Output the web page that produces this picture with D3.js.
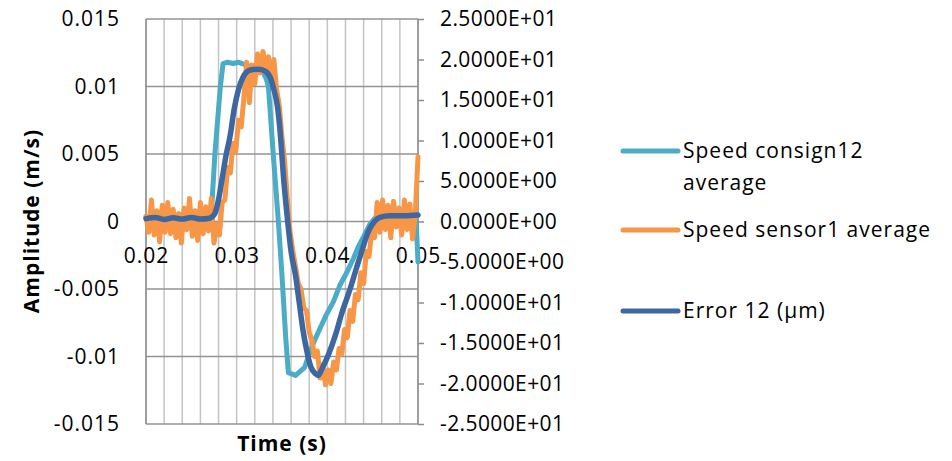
<!DOCTYPE html>
<html>
<head>
<meta charset="utf-8">
<script src="https://cdn.jsdelivr.net/npm/d3@7/dist/d3.min.js"></script>
<style>
	body { margin: 0; background: #fff; }
	text { font-family: 'Open Sans', sans-serif; font-size: 21px; fill: #000; letter-spacing: 1px; }
	.title { font-weight: bold; }
	.right text { letter-spacing: 0.4px; }
</style>
</head>
<body>
<svg></svg>
<script>
/* chart data */
const xTickLabels = [0.02, 0.03, 0.04, 0.05];
const leftTicks = [0.015, 0.01, 0.005, 0, -0.005, -0.01, -0.015];
const rightTicks = [25, 20, 15, 10, 5, 0, -5, -10, -15, -20, -25];
const seriesNames = [['Speed consign12', 'average'], ['Speed sensor1 average'], ['Error 12 (µm)']];

/* Speed consign12 average (m/s) */
const consignTime = [0.0200, 0.0215, 0.0230, 0.0245, 0.0260, 0.0272, 0.0276, 0.0282, 0.0285, 0.0290,
	0.0296, 0.0302, 0.0306, 0.0315, 0.0324, 0.0329, 0.0333, 0.0335, 0.0340, 0.0346,
	0.0350, 0.0354, 0.0357, 0.0365, 0.0370, 0.0375, 0.0379, 0.0386, 0.0392, 0.0399,
	0.0407, 0.0414, 0.0422, 0.0429, 0.0434, 0.0441, 0.0447, 0.0453, 0.0464, 0.0481,
	0.0496, 0.0498, 0.0500];
const consignSpeed = [0.0003, 0.0005, 0.0003, 0.0006, 0.0004, 0.0005, 0.0050, 0.0100, 0.0117, 0.0118,
	0.0117, 0.0118, 0.0117, 0.0115, 0.0113, 0.0111, 0.0105, 0.0100, 0.0053, 0.0000,
	-0.0040, -0.0085, -0.0112, -0.0114, -0.0111, -0.0108, -0.0100, -0.0088, -0.0079, -0.0069,
	-0.0059, -0.0047, -0.0037, -0.0027, -0.0019, -0.0010, -0.0002, 0.0003, 0.0004, 0.0003,
	0.0004, 0.0000, -0.0030];

/* Speed sensor1 average (m/s) */
const sensorTime = [0.0200, 0.0203, 0.0206, 0.0209, 0.0212, 0.0215, 0.0218, 0.0221, 0.0224, 0.0227,
	0.0230, 0.0233, 0.0236, 0.0239, 0.0242, 0.0245, 0.0248, 0.0251, 0.0254, 0.0257,
	0.0260, 0.0263, 0.0266, 0.0269, 0.0272, 0.0275, 0.0278, 0.0281, 0.0284, 0.0287,
	0.0290, 0.0293, 0.0296, 0.0299, 0.0302, 0.0305, 0.0308, 0.0311, 0.0314, 0.0317,
	0.0320, 0.0323, 0.0326, 0.0329, 0.0332, 0.0335, 0.0338, 0.0341, 0.0344, 0.0347,
	0.0350, 0.0353, 0.0356, 0.0359, 0.0362, 0.0365, 0.0368, 0.0371, 0.0374, 0.0377,
	0.0380, 0.0383, 0.0386, 0.0389, 0.0392, 0.0395, 0.0398, 0.0401, 0.0404, 0.0407,
	0.0410, 0.0413, 0.0416, 0.0419, 0.0422, 0.0425, 0.0428, 0.0431, 0.0434, 0.0437,
	0.0440, 0.0443, 0.0446, 0.0449, 0.0452, 0.0455, 0.0458, 0.0461, 0.0464, 0.0467,
	0.0470, 0.0473, 0.0476, 0.0479, 0.0482, 0.0485, 0.0488, 0.0491, 0.0494, 0.0497,
	0.0500];
const sensorSpeed = [0.0004, -0.0008, 0.0016, -0.0010, 0.0008, -0.0015, 0.0012, -0.0008, 0.0014, -0.0009,
	0.0009, -0.0012, 0.0006, -0.0016, 0.0010, -0.0006, 0.0017, -0.0011, 0.0008, -0.0014,
	0.0014, -0.0009, 0.0011, -0.0007, 0.0017, -0.0016, -0.0002, -0.0010, 0.0014, 0.0016,
	0.0040, 0.0036, 0.0058, 0.0052, 0.0075, 0.0070, 0.0092, 0.0118, 0.0088, 0.0116,
	0.0102, 0.0124, 0.0110, 0.0126, 0.0112, 0.0122, 0.0108, 0.0120, 0.0098, 0.0086,
	0.0062, 0.0044, 0.0016, -0.0008, -0.0022, -0.0034, -0.0046, -0.0050, -0.0064, -0.0066,
	-0.0082, -0.0088, -0.0100, -0.0096, -0.0116, -0.0106, -0.0121, -0.0110, -0.0120, -0.0104,
	-0.0110, -0.0094, -0.0098, -0.0080, -0.0086, -0.0066, -0.0074, -0.0054, -0.0058, -0.0038,
	-0.0046, -0.0022, -0.0026, -0.0006, -0.0012, 0.0014, -0.0008, 0.0016, -0.0006, 0.0012,
	-0.0012, 0.0015, -0.0004, 0.0010, -0.0010, 0.0016, -0.0006, 0.0013, -0.0013, 0.0006,
	0.0048];

/* Error 12 (µm), secondary axis */
const errorTime = [0.0200, 0.0210, 0.0220, 0.0230, 0.0240, 0.0250, 0.0260, 0.0270, 0.0273, 0.0276,
	0.0280, 0.0284, 0.0288, 0.0293, 0.0297, 0.0302, 0.0307, 0.0315, 0.0324, 0.0331,
	0.0337, 0.0341, 0.0345, 0.0348, 0.0352, 0.0356, 0.0360, 0.0365, 0.0369, 0.0373,
	0.0378, 0.0382, 0.0387, 0.0390, 0.0394, 0.0401, 0.0409, 0.0416, 0.0424, 0.0432,
	0.0439, 0.0445, 0.0452, 0.0458, 0.0469, 0.0486, 0.0500];
const errorUm = [0.35, 0.5, 0.25, 0.45, 0.3, 0.5, 0.3, 0.4, 0.6, 1.0,
	2.7, 5.3, 8.0, 10.7, 13.7, 16.3, 17.8, 18.7, 18.8, 18.6,
	17.8, 16.3, 14.2, 11.0, 5.0, 0.3, -3.7, -6.7, -10.0, -13.3,
	-16.3, -18.0, -18.8, -19.0, -18.2, -16.5, -14.0, -11.3, -8.7, -5.8,
	-3.3, -1.3, 0, 0.5, 0.7, 0.7, 0.8];

const colors = ['#4BACC6', '#F79646', '#3C67A1'];

/* layout */
const width = 952, height = 461;
const plot = {L: 146, R: 418, T: 19, B: 424};

const svg = d3.select('svg')
	.attr('width', width)
	.attr('height', height);

const x = d3.scaleLinear().domain([0.02, 0.05]).range([plot.L, plot.R]);
const yLeft = d3.scaleLinear().domain([-0.015, 0.015]).range([plot.B, plot.T]);
const yRight = d3.scaleLinear().domain([-25, 25]).range([plot.B, plot.T]);

/* gridlines */
const minorX = d3.range(0, 16).map((k) => 0.02 + k * 0.002);
svg.append('g')
	.selectAll('line')
	.data(minorX)
	.enter().append('line')
	.attr('x1', (d) => x(d)).attr('x2', (d) => x(d))
	.attr('y1', plot.T).attr('y2', plot.B)
	.attr('stroke', '#C4C4C4')
	.attr('stroke-width', 1.5);
svg.append('g')
	.selectAll('line')
	.data(leftTicks)
	.enter().append('line')
	.attr('x1', plot.L).attr('x2', plot.R)
	.attr('y1', (d) => yLeft(d)).attr('y2', (d) => yLeft(d))
	.attr('stroke', '#939393')
	.attr('stroke-width', 1.5);

/* axis lines */
svg.append('line')
	.attr('x1', plot.L).attr('x2', plot.L)
	.attr('y1', plot.T).attr('y2', plot.B)
	.attr('stroke', '#8C8C8C').attr('stroke-width', 1.5);

/* left axis labels */
const leftAxis = svg.append('g')
	.attr('transform', `translate(${plot.L},0)`)
	.call(d3.axisLeft(yLeft).tickValues(leftTicks).tickSize(0).tickPadding(26)
		.tickFormat((d) => String(+d.toFixed(3))));
leftAxis.select('.domain').remove();

/* right axis */
function sciFormat(v) {
	const parts = v.toExponential(4).split('e');
	const sign = parts[1][0];
	const exp = parts[1].slice(1).padStart(2, '0');
	return parts[0] + 'E' + sign + exp;
}
const rightAxis = svg.append('g')
	.attr('class', 'right')
	.attr('transform', `translate(${plot.R},0)`)
	.call(d3.axisRight(yRight).tickValues(rightTicks).tickSize(6).tickPadding(15)
		.tickFormat(sciFormat));
rightAxis.select('.domain')
	.attr('stroke', '#8C8C8C').attr('stroke-width', 1.5)
	.attr('d', `M0,${plot.T}V${plot.B}`);
rightAxis.selectAll('.tick line').attr('stroke', '#8C8C8C').attr('stroke-width', 1.5);
rightAxis.selectAll('.tick text').attr('x', 22);

/* x axis labels sit below the zero line */
const xAxis = svg.append('g')
	.attr('transform', `translate(0,${yLeft(0)})`)
	.call(d3.axisBottom(x).tickValues(xTickLabels).tickSize(0).tickPadding(27)
		.tickFormat((d) => d.toFixed(2)));
xAxis.select('.domain').remove();

/* fix the fonts that d3 axis sets */
svg.selectAll('.tick text')
	.attr('font-family', null)
	.attr('font-size', null)
	.style('font-size', '21px');

/* series */
const lineConsign = d3.line()
	.x((d, i) => x(consignTime[i]))
	.y((d) => yLeft(d));
const lineSensor = d3.line()
	.x((d, i) => x(sensorTime[i]))
	.y((d) => yLeft(d));
const lineError = d3.line()
	.curve(d3.curveMonotoneX)
	.x((d, i) => x(errorTime[i]))
	.y((d) => yRight(d));

const series = svg.append('g')
	.attr('fill', 'none')
	.attr('stroke-width', 5)
	.attr('stroke-linejoin', 'round')
	.attr('stroke-linecap', 'round');
series.append('path').attr('d', lineConsign(consignSpeed)).attr('stroke', colors[0]);
series.append('path').attr('d', lineSensor(sensorSpeed)).attr('stroke', colors[1]);
series.append('path').attr('d', lineError(errorUm)).attr('stroke', colors[2]).attr('stroke-width', 5.5);

/* axis titles */
svg.append('text')
	.attr('class', 'title')
	.attr('text-anchor', 'middle')
	.attr('transform', 'translate(39,221) rotate(-90)')
	.text('Amplitude (m/s)');
svg.append('text')
	.attr('class', 'title')
	.attr('text-anchor', 'middle')
	.attr('x', 282)
	.attr('y', 451)
	.text('Time (s)');

/* legend */
const legendY = [151, 230, 311];
const legend = svg.append('g')
	.selectAll('g')
	.data(seriesNames)
	.enter().append('g')
	.attr('transform', (d, i) => `translate(623,${legendY[i]})`);
legend.append('line')
	.attr('x1', 0).attr('x2', 55)
	.attr('stroke', (d, i) => colors[i])
	.attr('stroke-width', 5)
	.attr('stroke-linecap', 'round');
legend.append('text')
	.attr('y', 7)
	.selectAll('tspan')
	.data((d) => d)
	.enter().append('tspan')
	.attr('x', 60)
	.attr('dy', (d, i) => i === 0 ? 0 : 32)
	.text((d) => d);
</script>
</body>
</html>
